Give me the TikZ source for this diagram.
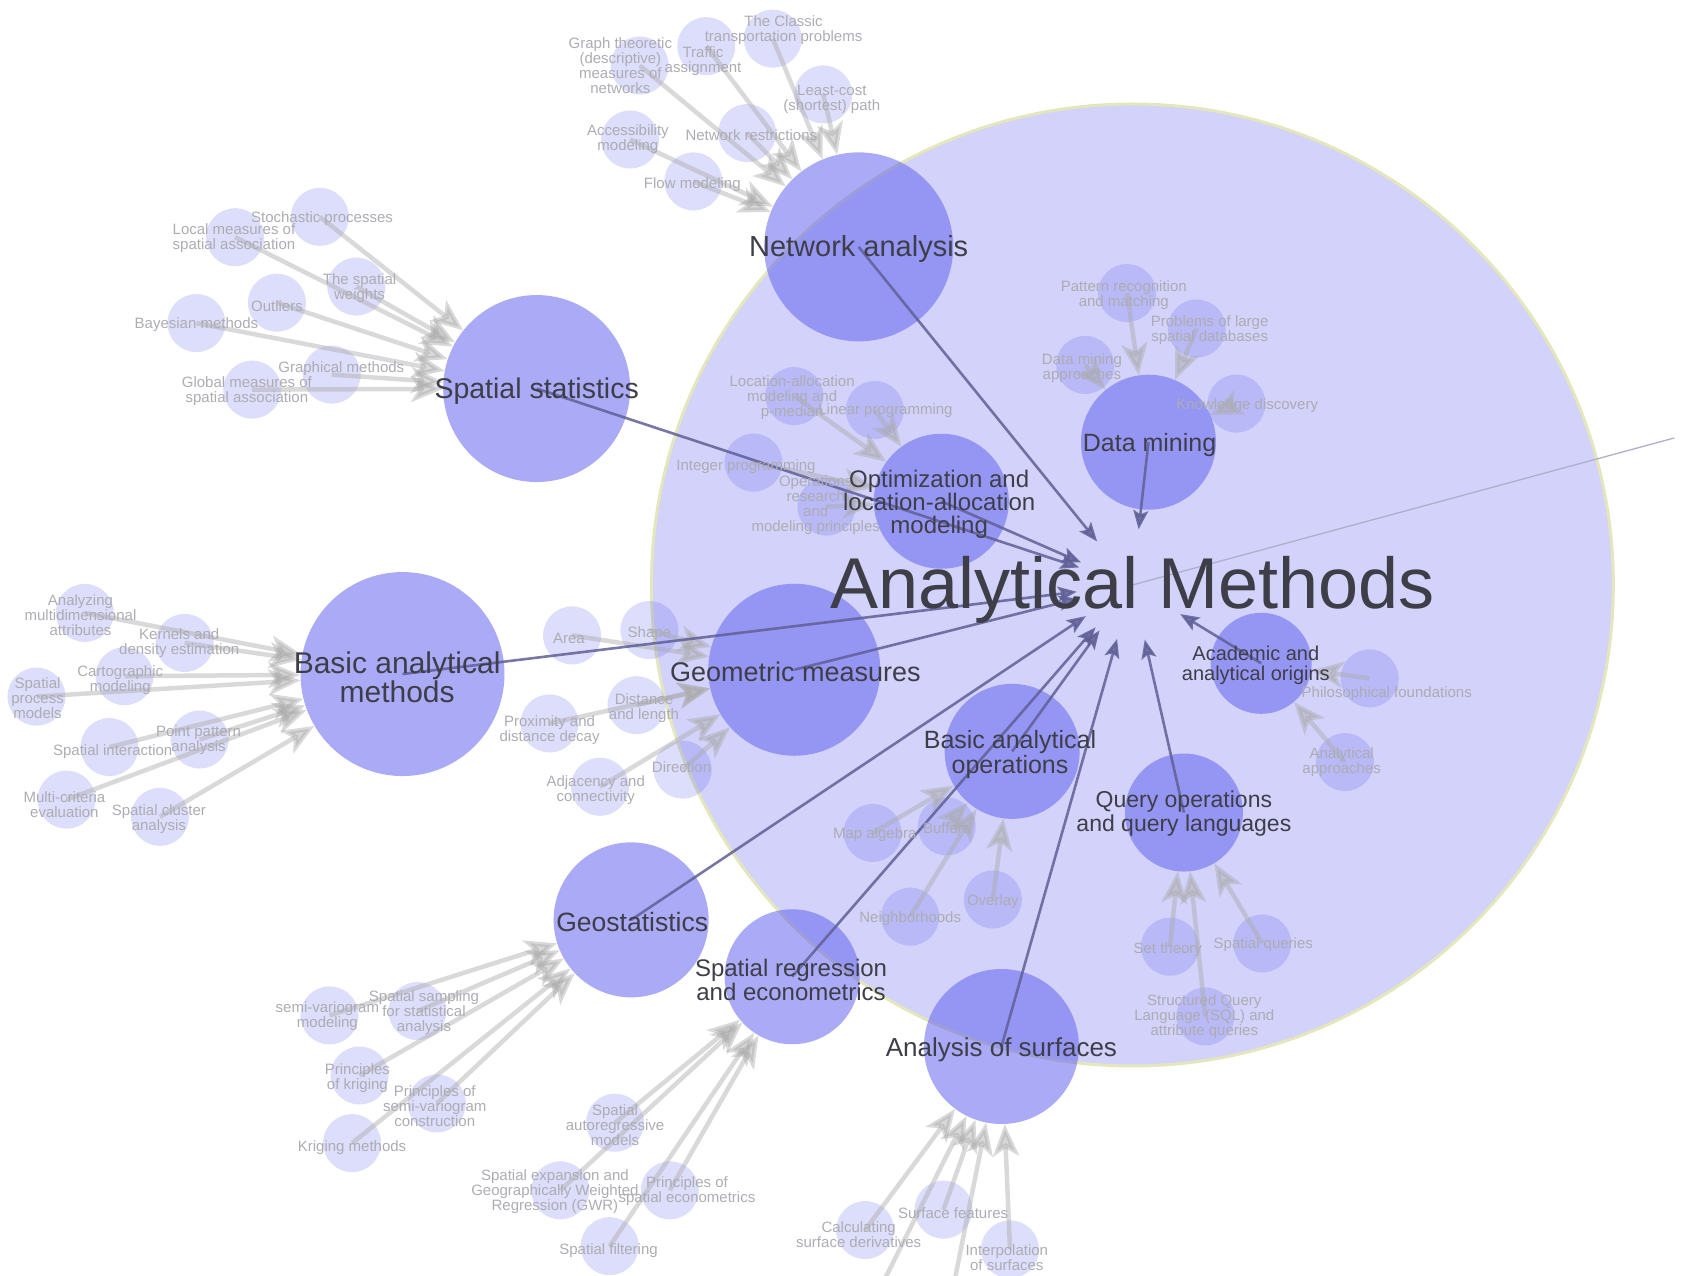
\documentclass[tikz,border=0pt]{standalone}
\usepackage{fontspec}
\setmainfont{Liberation Sans}
\setsansfont{Liberation Sans}
\usetikzlibrary{arrows.meta}

\definecolor{amfill}{RGB}{210,210,250}
\definecolor{amrim}{RGB}{228,230,188}
\definecolor{topicblue}{RGB}{100,100,240}
\definecolor{edgedark}{RGB}{95,95,150}
\definecolor{edgegray}{RGB}{170,170,170}
\definecolor{labeldark}{RGB}{62,62,72}
\definecolor{subgray}{RGB}{172,172,178}
\definecolor{rootline}{RGB}{175,175,205}

\begin{document}
\begin{tikzpicture}[x=1.0734pt,y=-1.0734pt,font=\sffamily]
    \tikzstyle{topic}=[circle,fill=topicblue,fill opacity=0.55,inner sep=0pt]
    \tikzstyle{subtopic}=[circle,fill=topicblue,fill opacity=0.22,inner sep=0pt,minimum size=58pt]
    \tikzstyle{toplabel}=[text=labeldark,align=center,inner sep=0pt]
    \tikzstyle{sublabel}=[text=subgray,align=center,inner sep=0pt,font=\fontsize{15}{15}\selectfont]
    \tikzstyle{subedge}=[draw=edgegray,opacity=0.45,line width=4.5pt,-{Stealth[length=32pt,width=26pt,inset=8pt]}]
    \tikzstyle{coreedge}=[draw=edgedark,opacity=0.85,line width=2.6pt,-{Stealth[length=19pt,width=15pt,inset=4pt]},shorten >=56pt]

    \useasboundingbox (0,0) rectangle (1568,1188);
    \clip (0,0) rectangle (1568,1188);

    % knowledge area
    \node[circle,fill=amfill,draw=amrim,line width=3pt,minimum size=962pt,inner sep=0pt] (am) at (1055,545) {};
    \coordinate (root) at (1560,408);
    \draw[rootline,line width=1.3pt] (am.center) -- (root);

    % units
    \node[topic,minimum size=189pt] (netw) at (800,230) {};
    \node[topic,minimum size=187pt] (sstat) at (500,362) {};
    \node[topic,minimum size=204pt] (bmeth) at (375,628) {};
    \node[topic,minimum size=172pt] (geom) at (740,624) {};
    \node[topic,minimum size=135pt] (optim) at (877,467) {};
    \node[topic,minimum size=135pt] (dmine) at (1070,412) {};
    \node[topic,minimum size=101pt] (acad) at (1175,618) {};
    \node[topic,minimum size=135pt] (bops) at (943,700) {};
    \node[topic,minimum size=118pt] (query) at (1103,757) {};
    \node[topic,minimum size=155pt] (geost) at (588,857) {};
    \node[topic,minimum size=135pt] (sreg) at (738,910) {};
    \node[topic,minimum size=155pt] (surf) at (933,975) {};

    % topics
    \node[subtopic] (graphm) at (596,61) {};
    \node[subtopic] (traffic) at (658,43) {};
    \node[subtopic] (transp) at (720,36) {};
    \node[subtopic] (lcpath) at (767,88) {};
    \node[subtopic] (netres) at (696,124) {};
    \node[subtopic] (access) at (587,130) {};
    \node[subtopic] (flowm) at (646,169) {};

    \node[subtopic] (stoch) at (298,202) {};
    \node[subtopic] (locmeas) at (219,221) {};
    \node[subtopic] (sweights) at (332,267) {};
    \node[subtopic] (outl) at (258,282) {};
    \node[subtopic] (bayes) at (183,301) {};
    \node[subtopic] (graphic) at (309,349) {};
    \node[subtopic] (globmeas) at (235,363) {};

    \node[subtopic] (multidim) at (79,571) {};
    \node[subtopic] (kernels) at (172,599) {};
    \node[subtopic] (cartom) at (116,630) {};
    \node[subtopic] (procm) at (34,649) {};
    \node[subtopic] (ppa) at (186,689) {};
    \node[subtopic] (interact) at (102,696) {};
    \node[subtopic] (mce) at (62,745) {};
    \node[subtopic] (cluster) at (149,761) {};

    \node[subtopic] (area) at (533,592) {};
    \node[subtopic] (shape) at (605,587) {};
    \node[subtopic] (dist) at (593,657) {};
    \node[subtopic] (prox) at (512,674) {};
    \node[subtopic] (adjac) at (559,733) {};
    \node[subtopic] (direc) at (636,717) {};

    \node[subtopic] (locall) at (740,369) {};
    \node[subtopic] (linprog) at (815,382) {};
    \node[subtopic] (intprog) at (702,431) {};
    \node[subtopic] (opres) at (770,472) {};

    \node[subtopic] (pattern) at (1050,273) {};
    \node[subtopic] (largedb) at (1115,306) {};
    \node[subtopic] (dmapp) at (1011,340) {};
    \node[subtopic] (knowl) at (1152,376) {};

    \node[subtopic] (philo) at (1276,632) {};
    \node[subtopic] (anapp) at (1253,710) {};

    \node[subtopic] (mapalg) at (813,776) {};
    \node[subtopic] (buffers) at (882,770) {};
    \node[subtopic] (neigh) at (848,854) {};
    \node[subtopic] (overlay) at (925,838) {};

    \node[subtopic] (settheo) at (1090,882) {};
    \node[subtopic] (squeries) at (1176,879) {};
    \node[subtopic] (sql) at (1123,947) {};

    \node[subtopic] (semimod) at (307,946) {};
    \node[subtopic] (sampling) at (389,942) {};
    \node[subtopic] (pkrig) at (335,1002) {};
    \node[subtopic] (psemi) at (407,1028) {};
    \node[subtopic] (krigm) at (328,1065) {};

    \node[subtopic] (autoreg) at (573,1046) {};
    \node[subtopic] (gwr) at (522,1109) {};
    \node[subtopic] (econ) at (624,1109) {};
    \node[subtopic] (filter) at (568,1161) {};

    \node[subtopic] (derivs) at (806,1146) {};
    \node[subtopic] (features) at (879,1127) {};
    \node[subtopic] (interp) at (941,1164) {};
    \coordinate (offsurfa) at (805,1230);
    \coordinate (offsurfb) at (882,1230);

    % topic -> unit
    \draw[subedge] (graphm.center) -- (netw);
    \draw[subedge] (traffic.center) -- (netw);
    \draw[subedge] (transp.center) -- (netw);
    \draw[subedge] (lcpath.center) -- (netw);
    \draw[subedge] (netres.center) -- (netw);
    \draw[subedge] (access.center) -- (netw);
    \draw[subedge] (flowm.center) -- (netw);

    \draw[subedge] (stoch.center) -- (sstat);
    \draw[subedge] (locmeas.center) -- (sstat);
    \draw[subedge] (sweights.center) -- (sstat);
    \draw[subedge] (outl.center) -- (sstat);
    \draw[subedge] (bayes.center) -- (sstat);
    \draw[subedge] (graphic.center) -- (sstat);
    \draw[subedge] (globmeas.center) -- (sstat);

    \draw[subedge] (multidim.center) -- (bmeth);
    \draw[subedge] (kernels.center) -- (bmeth);
    \draw[subedge] (cartom.center) -- (bmeth);
    \draw[subedge] (procm.center) -- (bmeth);
    \draw[subedge] (ppa.center) -- (bmeth);
    \draw[subedge] (interact.center) -- (bmeth);
    \draw[subedge] (mce.center) -- (bmeth);
    \draw[subedge] (cluster.center) -- (bmeth);

    \draw[subedge] (area.center) -- (geom);
    \draw[subedge] (shape.center) -- (geom);
    \draw[subedge] (dist.center) -- (geom);
    \draw[subedge] (prox.center) -- (geom);
    \draw[subedge] (adjac.center) -- (geom);
    \draw[subedge] (direc.center) -- (geom);

    \draw[subedge] (locall.center) -- (optim);
    \draw[subedge] (linprog.center) -- (optim);
    \draw[subedge] (intprog.center) -- (optim);
    \draw[subedge] (opres.center) -- (optim);

    \draw[subedge] (pattern.center) -- (dmine);
    \draw[subedge] (largedb.center) -- (dmine);
    \draw[subedge] (dmapp.center) -- (dmine);
    \draw[subedge] (knowl.center) -- (dmine);

    \draw[subedge] (philo.center) -- (acad);
    \draw[subedge] (anapp.center) -- (acad);

    \draw[subedge] (mapalg.center) -- (bops);
    \draw[subedge] (buffers.center) -- (bops);
    \draw[subedge] (neigh.center) -- (bops);
    \draw[subedge] (overlay.center) -- (bops);

    \draw[subedge] (settheo.center) -- (query);
    \draw[subedge] (squeries.center) -- (query);
    \draw[subedge] (sql.center) -- (query);

    \draw[subedge] (semimod.center) -- (geost);
    \draw[subedge] (sampling.center) -- (geost);
    \draw[subedge] (pkrig.center) -- (geost);
    \draw[subedge] (psemi.center) -- (geost);
    \draw[subedge] (krigm.center) -- (geost);

    \draw[subedge] (autoreg.center) -- (sreg);
    \draw[subedge] (gwr.center) -- (sreg);
    \draw[subedge] (econ.center) -- (sreg);
    \draw[subedge] (filter.center) -- (sreg);

    \draw[subedge] (derivs.center) -- (surf);
    \draw[subedge] (features.center) -- (surf);
    \draw[subedge] (interp.center) -- (surf);
    \draw[subedge] (offsurfa) -- (surf);
    \draw[subedge] (offsurfb) -- (surf);

    % unit -> knowledge area
    \draw[coreedge] (netw.center) -- (am.center);
    \draw[coreedge] (sstat.center) -- (am.center);
    \draw[coreedge] (bmeth.center) -- (am.center);
    \draw[coreedge] (geom.center) -- (am.center);
    \draw[coreedge] (optim.center) -- (am.center);
    \draw[coreedge] (dmine.center) -- (am.center);
    \draw[coreedge] (acad.center) -- (am.center);
    \draw[coreedge] (bops.center) -- (am.center);
    \draw[coreedge] (query.center) -- (am.center);
    \draw[coreedge] (geost.center) -- (am.center);
    \draw[coreedge] (sreg.center) -- (am.center);
    \draw[coreedge] (surf.center) -- (am.center);

    % topic labels
    \node[sublabel] (graphm-t) at (578,61) {Graph theoretic\\(descriptive)\\measures of\\networks};
    \node[sublabel] (traffic-t) at (655,57) {Traffic\\assignment};
    \node[sublabel] (transp-t) at (730,28) {The Classic\\transportation problems};
    \node[sublabel] (lcpath-t) at (775,93) {Least-cost\\(shortest) path};
    \node[sublabel] (netres-t) at (700,126) {Network restrictions};
    \node[sublabel] (access-t) at (585,130) {Accessibility\\modeling};
    \node[sublabel] (flowm-t) at (645,172) {Flow modeling};

    \node[sublabel] (stoch-t) at (300,204) {Stochastic processes};
    \node[sublabel] (locmeas-t) at (218,222) {Local measures of\\spatial association};
    \node[sublabel] (sweights-t) at (335,268) {The spatial\\weights};
    \node[sublabel] (outl-t) at (258,285) {Outliers};
    \node[sublabel] (bayes-t) at (183,302) {Bayesian methods};
    \node[sublabel] (graphic-t) at (318,343) {Graphical methods};
    \node[sublabel] (globmeas-t) at (230,364) {Global measures of\\spatial association};

    \node[sublabel] (multidim-t) at (75,573) {Analyzing\\multidimensional\\attributes};
    \node[sublabel] (kernels-t) at (167,599) {Kernels and\\density estimation};
    \node[sublabel] (cartom-t) at (112,634) {Cartographic\\modeling};
    \node[sublabel] (procm-t) at (35,650) {Spatial\\process\\models};
    \node[sublabel] (ppa-t) at (185,690) {Point pattern\\analysis};
    \node[sublabel] (interact-t) at (105,700) {Spatial interaction};
    \node[sublabel] (mce-t) at (60,750) {Multi-criteria\\evaluation};
    \node[sublabel] (cluster-t) at (148,763) {Spatial cluster\\analysis};

    \node[sublabel] (area-t) at (530,595) {Area};
    \node[sublabel] (shape-t) at (605,590) {Shape};
    \node[sublabel] (dist-t) at (600,660) {Distance\\and length};
    \node[sublabel] (prox-t) at (512,680) {Proximity and\\distance decay};
    \node[sublabel] (adjac-t) at (555,736) {Adjacency and\\connectivity};
    \node[sublabel] (direc-t) at (635,715) {Direction};

    \node[sublabel] (locall-t) at (738,370) {Location-allocation\\modeling and\\p-median};
    \node[sublabel] (linprog-t) at (825,383) {Linear programming};
    \node[sublabel] (intprog-t) at (695,435) {Integer programming};
    \node[sublabel] (opres-t) at (760,471) {Operations\\research\\and\\modeling principles};

    \node[sublabel] (pattern-t) at (1047,275) {Pattern recognition\\and matching};
    \node[sublabel] (largedb-t) at (1127,308) {Problems of large\\spatial databases};
    \node[sublabel] (dmapp-t) at (1008,343) {Data mining\\approaches};
    \node[sublabel] (knowl-t) at (1162,378) {Knowledge discovery};

    \node[sublabel] (philo-t) at (1292,646) {Philosophical foundations};
    \node[sublabel] (anapp-t) at (1250,710) {Analytical\\approaches};

    \node[sublabel] (mapalg-t) at (815,778) {Map algebra};
    \node[sublabel] (buffers-t) at (882,772) {Buffers};
    \node[sublabel] (neigh-t) at (848,856) {Neighborhoods};
    \node[sublabel] (overlay-t) at (925,840) {Overlay};

    \node[sublabel] (settheo-t) at (1088,885) {Set theory};
    \node[sublabel] (squeries-t) at (1177,880) {Spatial queries};
    \node[sublabel] (sql-t) at (1122,947) {Structured Query\\Language (SQL) and\\attribute queries};

    \node[sublabel] (semimod-t) at (305,947) {semi-variogram\\modeling};
    \node[sublabel] (sampling-t) at (395,943) {Spatial sampling\\for statistical\\analysis};
    \node[sublabel] (pkrig-t) at (333,1004) {Principles\\of kriging};
    \node[sublabel] (psemi-t) at (405,1031) {Principles of\\semi-variogram\\construction};
    \node[sublabel] (krigm-t) at (328,1069) {Kriging methods};

    \node[sublabel] (autoreg-t) at (573,1048) {Spatial\\autoregressive\\models};
    \node[sublabel] (gwr-t) at (517,1110) {Spatial expansion and\\Geographically Weighted\\Regression (GWR)};
    \node[sublabel] (econ-t) at (640,1110) {Principles of\\spatial econometrics};
    \node[sublabel] (filter-t) at (567,1165) {Spatial filtering};

    \node[sublabel] (derivs-t) at (800,1150) {Calculating\\surface derivatives};
    \node[sublabel] (features-t) at (888,1130) {Surface features};
    \node[sublabel] (interp-t) at (938,1172) {Interpolation\\of surfaces};

    % unit labels
    \node[toplabel,font=\fontsize{29}{29}\selectfont] (netw-t) at (800,232) {Network analysis};
    \node[toplabel,font=\fontsize{28.5}{28.5}\selectfont] (sstat-t) at (500,364) {Spatial statistics};
    \node[toplabel,font=\fontsize{30}{29}\selectfont] (bmeth-t) at (370,631) {Basic analytical\\methods};
    \node[toplabel,font=\fontsize{27}{27}\selectfont] (geom-t) at (741,626) {Geometric measures};
    \node[toplabel,font=\fontsize{24}{23}\selectfont] (optim-t) at (875,470) {Optimization and\\location-allocation\\modeling};
    \node[toplabel,font=\fontsize{25}{25}\selectfont] (dmine-t) at (1071,415) {Data mining};
    \node[toplabel,font=\fontsize{20}{19.5}\selectfont] (acad-t) at (1170,620) {Academic and\\analytical origins};
    \node[toplabel,font=\fontsize{25}{24.5}\selectfont] (bops-t) at (941,703) {Basic analytical\\operations};
    \node[toplabel,font=\fontsize{23}{23.5}\selectfont] (query-t) at (1103,758) {Query operations\\and query languages};
    \node[toplabel,font=\fontsize{26.5}{26.5}\selectfont] (geost-t) at (589,859) {Geostatistics};
    \node[toplabel,font=\fontsize{24}{24.5}\selectfont] (sreg-t) at (737,913) {Spatial regression\\and econometrics};
    \node[toplabel,font=\fontsize{26}{26}\selectfont] (surf-t) at (933,978) {Analysis of surfaces};

    \node[toplabel,font=\fontsize{72}{72}\selectfont] (am-t) at (1055,550) {Analytical Methods};
\end{tikzpicture}
\end{document}
